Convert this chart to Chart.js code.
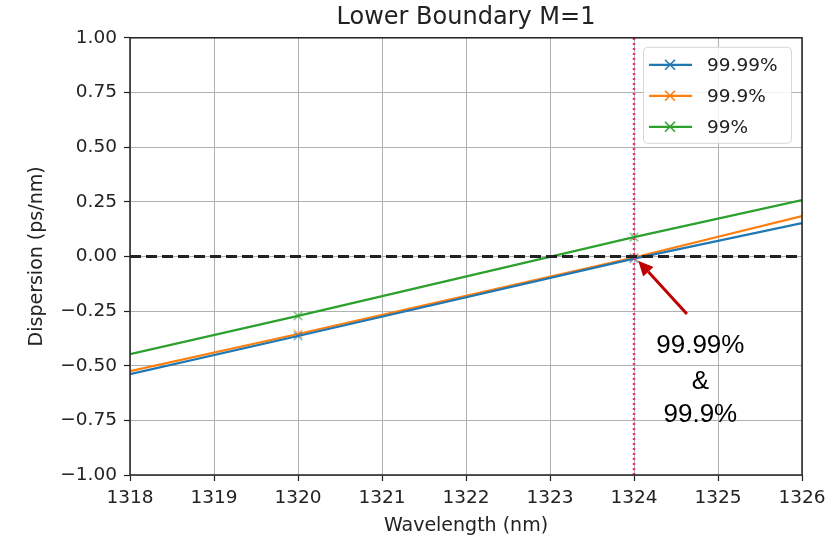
<!DOCTYPE html>
<html>
<head>
<meta charset="utf-8">
<script src="https://cdn.jsdelivr.net/npm/chart.js@4/dist/chart.umd.min.js"></script>
<style>
  html, body { margin: 0; padding: 0; background: #fff; }
  #wrap { width: 838px; height: 539px; }
</style>
</head>
<body>
<div id="wrap"><canvas id="c" width="838" height="539"></canvas></div>
<script>
// ---- data ----
const wavelengths = [1318, 1320, 1324, 1326];
const series9999 = [-0.539, -0.364, -0.010, 0.152];
const series999  = [-0.525, -0.355, -0.005, 0.184];
const series99   = [-0.447, -0.272, 0.088, 0.258];
const seriesLabels = ['99.99%', '99.9%', '99%'];
const markerShown = [false, true, true, false];
const xTicks = [1318, 1319, 1320, 1321, 1322, 1323, 1324, 1325, 1326];
const yTicks = [-1.0, -0.75, -0.5, -0.25, 0.0, 0.25, 0.5, 0.75, 1.0];
const zeroLineX = [1318, 1326];
const boundaryX = 1324;
const annotationTip = { x: 1324.05, y: -0.02 };
const annotationTail = { x: 1324.63, y: -0.263 };
const annotationLines = ['99.99%', '&', '99.9%'];
const annotationLineY = [-0.41, -0.576, -0.723];
const annotationX = 1324.79;

const colors = ['#1f77b4', '#ff7f0e', '#2ca02c'];
const markerColors = ['rgba(31,119,180,0.55)', 'rgba(255,127,14,0.55)', 'rgba(44,160,44,0.55)'];
const FONT = "'DejaVu Sans', sans-serif";

function pts(xs, ys) { return xs.map((x, i) => ({ x: x, y: ys[i] })); }

const seriesData = [series9999, series999, series99];

const datasets = [
  {
    label: '_boundary',
    data: [{ x: boundaryX, y: -1 }, { x: boundaryX, y: 1 }],
    borderColor: '#f0306e',
    borderWidth: 2.5,
    borderDash: [2, 3],
    pointRadius: 0,
    showLine: true,
  },
  {
    label: '_zero',
    data: zeroLineX.map(x => ({ x: x, y: 0 })),
    borderColor: '#222',
    borderWidth: 3,
    borderDash: [11, 5],
    pointRadius: 0,
    showLine: true,
  },
];
seriesData.forEach((s, i) => {
  datasets.push({
    label: seriesLabels[i],
    data: pts(wavelengths, s),
    borderColor: colors[i],
    backgroundColor: colors[i],
    borderWidth: 2.2,
    pointStyle: 'crossRot',
    pointRadius: markerShown.map(m => m ? 6 : 0),
    pointBorderColor: markerColors[i],
    pointBorderWidth: 1.6,
    showLine: true,
  });
});

const framePlugin = {
  id: 'frame',
  afterDatasetsDraw(chart) {
    const { ctx, chartArea: a } = chart;
    ctx.save();
    ctx.strokeStyle = '#222';
    ctx.lineWidth = 1.5;
    ctx.strokeRect(a.left, a.top, a.right - a.left, a.bottom - a.top);
    ctx.restore();
  }
};

const annotationPlugin = {
  id: 'annot',
  afterDraw(chart) {
    const { ctx } = chart;
    const xs = chart.scales.x, ys = chart.scales.y;
    const tx = xs.getPixelForValue(annotationTip.x), ty = ys.getPixelForValue(annotationTip.y);
    const sx = xs.getPixelForValue(annotationTail.x), sy = ys.getPixelForValue(annotationTail.y);
    const ang = Math.atan2(ty - sy, tx - sx);
    const headLen = 15, headW = 7;
    const bx = tx - headLen * Math.cos(ang), by = ty - headLen * Math.sin(ang);
    ctx.save();
    ctx.strokeStyle = '#c00000';
    ctx.fillStyle = '#c00000';
    ctx.lineWidth = 3;
    ctx.beginPath();
    ctx.moveTo(sx, sy);
    ctx.lineTo(bx, by);
    ctx.stroke();
    ctx.beginPath();
    ctx.moveTo(tx, ty);
    ctx.lineTo(bx + headW * Math.sin(ang), by - headW * Math.cos(ang));
    ctx.lineTo(bx - headW * Math.sin(ang), by + headW * Math.cos(ang));
    ctx.closePath();
    ctx.fill();
    ctx.fillStyle = '#000';
    ctx.font = "26px 'Liberation Sans', Arial, sans-serif";
    ctx.textAlign = 'center';
    ctx.textBaseline = 'middle';
    const ax = xs.getPixelForValue(annotationX);
    annotationLines.forEach((t, i) => {
      ctx.fillText(t, ax, ys.getPixelForValue(annotationLineY[i]));
    });
    ctx.restore();
  }
};

const legendPlugin = {
  id: 'customLegend',
  afterDraw(chart) {
    const { ctx, chartArea: a } = chart;
    const items = chart.data.datasets.filter(d => !d.label.startsWith('_'));
    const boxW = 148, boxH = 96;
    const x0 = a.right - 11 - boxW, y0 = a.top + 9;
    ctx.save();
    ctx.fillStyle = 'rgba(255,255,255,0.85)';
    ctx.strokeStyle = '#d6d6d6';
    ctx.lineWidth = 1;
    ctx.beginPath();
    ctx.roundRect(x0 + 0.5, y0 + 0.5, boxW, boxH, 4);
    ctx.fill();
    ctx.stroke();
    ctx.font = "18.5px " + FONT;
    ctx.textBaseline = 'middle';
    ctx.textAlign = 'left';
    items.forEach((d, i) => {
      const cy = y0 + 18 + i * 31;
      ctx.strokeStyle = d.borderColor;
      ctx.lineWidth = 2.2;
      ctx.beginPath();
      ctx.moveTo(x0 + 6, cy);
      ctx.lineTo(x0 + 49, cy);
      ctx.stroke();
      const mx = x0 + 27, r = 5;
      ctx.lineWidth = 1.6;
      ctx.beginPath();
      ctx.moveTo(mx - r, cy - r); ctx.lineTo(mx + r, cy + r);
      ctx.moveTo(mx - r, cy + r); ctx.lineTo(mx + r, cy - r);
      ctx.stroke();
      ctx.fillStyle = '#222';
      ctx.fillText(d.label, x0 + 64, cy + 1);
    });
    ctx.restore();
  }
};

new Chart(document.getElementById('c'), {
  type: 'scatter',
  data: { datasets: datasets },
  options: {
    responsive: false,
    animation: false,
    layout: { padding: { left: 0, right: 36, top: 0, bottom: 0 } },
    plugins: {
      legend: { display: false },
      tooltip: { enabled: false },
      title: {
        display: true,
        fullSize: false,
        text: 'Lower Boundary M=1',
        color: '#222',
        font: { family: FONT, size: 24, weight: 'normal' },
        padding: { top: 3, bottom: 6 },
      },
    },
    scales: {
      x: {
        type: 'linear',
        min: xTicks[0],
        max: xTicks[xTicks.length - 1],
        afterBuildTicks(scale) { scale.ticks = xTicks.map(v => ({ value: v })); },
        afterFit(scale) { scale.height = 64; },
        grid: { color: '#b0b0b0', lineWidth: 1, tickLength: 6, tickColor: '#222', tickWidth: 1.2 },
        border: { display: false },
        ticks: {
          color: '#222',
          font: { family: FONT, size: 18.5 },
          padding: 6,
          maxRotation: 0,
          callback: v => String(v),
        },
        title: {
          display: true,
          text: 'Wavelength (nm)',
          color: '#222',
          font: { family: FONT, size: 19 },
          padding: { top: 0, bottom: 2 },
        },
      },
      y: {
        type: 'linear',
        min: yTicks[0],
        max: yTicks[yTicks.length - 1],
        afterBuildTicks(scale) { scale.ticks = yTicks.map(v => ({ value: v })); },
        afterFit(scale) { scale.width = 130; },
        grid: { color: '#b0b0b0', lineWidth: 1, tickLength: 6, tickColor: '#222', tickWidth: 1.2 },
        border: { display: false },
        ticks: {
          color: '#222',
          font: { family: FONT, size: 18.5 },
          padding: 7,
          callback: v => (v < 0 ? '\u2212' : '') + Math.abs(v).toFixed(2),
        },
        title: {
          display: true,
          text: 'Dispersion (ps/nm)',
          color: '#222',
          font: { family: FONT, size: 19 },
          padding: { top: 26, bottom: 0 },
        },
      },
    },
  },
  plugins: [framePlugin, annotationPlugin, legendPlugin],
});
</script>
</body>
</html>
